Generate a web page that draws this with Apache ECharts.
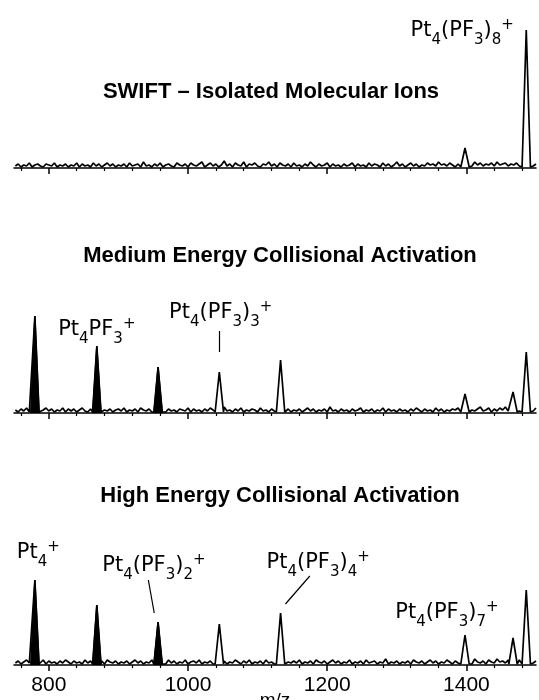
<!DOCTYPE html>
<html>
<head>
<meta charset="utf-8">
<script src="https://cdn.jsdelivr.net/npm/echarts@6/dist/echarts.min.js"></script>
<style>
  html, body { margin: 0; padding: 0; background: #fff; }
  #chart { width: 539px; height: 700px; }
</style>
</head>
<body>
<div id="chart"></div>
<script>
/* three stacked mass spectra: SWIFT / medium / high energy CID */
var mzMin = 750, mzMax = 1500;
var majorTicks = [800, 1000, 1200, 1400];
var minorTicks = [760, 840, 880, 920, 960, 1040, 1080, 1120, 1160, 1240, 1280, 1320, 1360, 1440, 1480];

// baseline noise, sampled every 4 m/z from 752
var noiseStart = 752, noiseStep = 4;
var swiftNoise = [
  2,4,1,3,2,5,1,3,4,2,1,4,3,2,5,1,3,2,4,1,
  3,2,5,1,4,2,3,1,5,2,4,1,3,5,2,4,1,3,2,4,
  1,5,2,3,4,1,6,2,3,1,4,2,5,1,3,4,2,1,5,3,
  2,4,1,5,3,2,4,6,1,3,5,2,4,1,3,7,2,4,1,5,
  3,2,6,1,4,3,5,2,1,4,3,6,2,4,1,5,3,2,4,1,
  5,2,3,1,4,2,6,3,1,4,2,3,5,1,4,2,3,1,4,2,
  3,5,1,4,2,3,1,5,2,4,3,1,5,2,4,1,3,6,2,4,
  1,3,5,2,4,1,3,2,5,3,4,2,6,3,4,2,5,3,1,4,
  2,5,3,4,2,6,3,5,2,4,3,5,2,6,3,4,5,2,4,3,
  5,2,4,6,3,5,2,4
];
var mediumNoise = [
  3,1,4,2,5,1,3,2,4,1,3,5,2,4,1,3,2,5,1,4,
  2,4,1,3,5,2,1,4,3,2,5,1,3,2,4,1,3,4,2,5,
  1,3,2,4,1,5,3,2,4,1,3,2,5,3,1,4,2,3,1,4,
  3,2,5,1,4,2,3,1,4,2,5,3,1,4,2,6,2,3,1,4,
  2,5,1,3,2,4,3,1,5,2,3,1,4,2,5,1,3,2,4,1,
  3,2,4,1,3,5,2,4,1,3,2,4,1,6,2,3,1,4,2,3,
  1,4,2,3,5,1,3,2,4,1,3,2,5,1,4,2,3,1,4,2,
  3,1,4,2,5,3,1,4,2,3,1,5,2,4,1,3,2,4,3,5,
  2,4,1,5,3,2,4,6,2,3,5,1,4,2,5,3,6,2,4,3,
  5,2,4,1,6,3,2,5
];
var highNoise = [
  2,4,1,3,5,2,4,1,3,2,5,1,4,2,3,1,4,2,5,3,
  1,4,2,3,1,5,2,4,1,3,2,4,1,5,3,2,4,1,3,2,
  4,1,3,5,2,4,1,3,2,5,1,4,2,3,1,5,2,4,1,3,
  2,5,1,3,4,2,5,1,3,2,4,1,5,2,3,4,1,3,2,5,
  3,1,4,2,5,1,3,2,4,1,5,2,3,1,4,2,6,1,3,2,
  4,2,5,1,3,2,4,1,5,3,2,4,1,3,5,2,4,1,3,2,
  5,1,3,2,4,1,5,2,3,4,1,3,2,6,1,3,2,4,1,3,
  2,4,1,5,3,2,4,1,3,5,2,4,1,3,2,5,3,1,4,2,
  3,5,2,4,1,6,3,2,4,1,5,3,2,6,3,4,2,5,3,4,
  2,5,3,4,1,5,2,4
];

// peaks (m/z, intensity); the first cidFilled CID peaks print solid
var swiftPeakMz = [1398, 1486];
var swiftPeakH  = [20, 138];
var cidPeakMz = [780, 869, 957, 1045, 1133, 1398, 1467, 1486];
var mediumPeakH = [97, 67, 46, 41, 53, 19, 21, 61];
var highPeakH   = [85, 60, 43, 41, 52, 30, 27, 75];
var cidFilled = 3;
var peakHalfWidth = 6;

var titles = ['SWIFT \u2013 Isolated Molecular Ions', 'Medium Energy Collisional Activation', 'High Energy Collisional Activation'];

// peak annotations: [m/z, intensity] of label centre
var swiftLabelPos = [[1394, 137]];
var swiftLabelText = ['{m|Pt}{s|4}{m|(PF}{s|3}{m|)}{s|8}{p|+}'];
var mediumLabelPos = [[869, 83], [1047, 100]];
var mediumLabelText = ['{m|Pt}{s|4}{m|PF}{s|3}{p|+}', '{m|Pt}{s|4}{m|(PF}{s|3}{m|)}{s|3}{p|+}'];
var mediumLeaders = [[[1045, 82], [1045, 61]]];
var highLabelPos = [[785, 112], [951, 99], [1187, 102], [1372, 52]];
var highLabelText = ['{m|Pt}{s|4}{p|+}', '{m|Pt}{s|4}{m|(PF}{s|3}{m|)}{s|2}{p|+}',
  '{m|Pt}{s|4}{m|(PF}{s|3}{m|)}{s|4}{p|+}', '{m|Pt}{s|4}{m|(PF}{s|3}{m|)}{s|7}{p|+}'];
var highLeaders = [[[943, 85], [951.5, 52]], [[1175, 89], [1140, 61]]];

var ink = '#000';
var grids = [
  { left: 14, right: 3, top: 8, height: 160, outerBoundsMode: 'none' },
  { left: 14, right: 3, top: 293, height: 120, outerBoundsMode: 'none' },
  { left: 14, right: 3, top: 540, height: 125, outerBoundsMode: 'none' }
];
var yMax = [160, 120, 125];
var titleTop = [81, 245, 485];
var titleLeft = [271, 280, 280];

function buildTrace(noise, peakMz, peakH) {
  var pts = [];
  noise.forEach(function (v, i) {
    var x = noiseStart + i * noiseStep;
    var near = peakMz.some(function (m) { return Math.abs(x - m) <= peakHalfWidth; });
    if (!near) pts.push([x, v]);
  });
  peakMz.forEach(function (m, i) {
    pts.push([m - peakHalfWidth, 1], [m, peakH[i]], [m + peakHalfWidth, 1]);
  });
  pts.sort(function (a, b) { return a[0] - b[0]; });
  return pts;
}

function buildFilled(peakMz, peakH, count) {
  var pts = [];
  for (var i = 0; i < count; i++) {
    var m = peakMz[i];
    pts.push([m - peakHalfWidth, 0], [m, peakH[i]], [m + peakHalfWidth, 0], [m + peakHalfWidth, null]);
  }
  return pts;
}

// sub/superscripts: middle aligned, shifted with padding
var rich = {
  m: { fontFamily: 'DejaVu Sans', fontSize: 21, lineHeight: 22, color: ink, verticalAlign: 'middle' },
  s: { fontFamily: 'DejaVu Sans', fontSize: 15, lineHeight: 15, color: ink, verticalAlign: 'middle', padding: [19, 0, 0, 0] },
  p: { fontFamily: 'DejaVu Sans', fontSize: 15, lineHeight: 15, color: ink, verticalAlign: 'middle', padding: [0, 0, 11, 0] }
};

var panels = [
  { trace: buildTrace(swiftNoise, swiftPeakMz, swiftPeakH), filled: [],
    labels: swiftLabelPos, texts: swiftLabelText, leaders: [] },
  { trace: buildTrace(mediumNoise, cidPeakMz, mediumPeakH), filled: buildFilled(cidPeakMz, mediumPeakH, cidFilled),
    labels: mediumLabelPos, texts: mediumLabelText, leaders: mediumLeaders },
  { trace: buildTrace(highNoise, cidPeakMz, highPeakH), filled: buildFilled(cidPeakMz, highPeakH, cidFilled),
    labels: highLabelPos, texts: highLabelText, leaders: highLeaders }
];

var xAxes = [], yAxes = [], series = [], titleOpts = [];
panels.forEach(function (p, i) {
  xAxes.push({
    gridIndex: i, type: 'value', min: mzMin, max: mzMax, position: 'bottom',
    axisLine: { lineStyle: { color: ink, width: 1.5 } },
    axisTick: { customValues: majorTicks, length: 6, lineStyle: { color: ink, width: 1.5 } },
    axisLabel: { show: i === 2, customValues: majorTicks, margin: 10, color: ink,
      fontFamily: 'Liberation Sans', fontSize: 21, formatter: function (v) { return String(v); } },
    splitLine: { show: false },
    name: i === 2 ? 'm/z' : '', nameLocation: 'middle', nameGap: 26, nameMoveOverlap: false,
    nameTextStyle: { color: ink, fontFamily: 'Liberation Sans', fontSize: 19 }
  });
  yAxes.push({ gridIndex: i, type: 'value', min: 0, max: yMax[i], show: false });
  titleOpts.push({
    text: titles[i], left: titleLeft[i], top: titleTop[i], textAlign: 'center', padding: 0,
    textStyle: { color: ink, fontFamily: 'Liberation Sans', fontWeight: 'bold', fontSize: 22 }
  });
});
// minor ticks on overlay axes
panels.forEach(function (p, i) {
  xAxes.push({
    gridIndex: i, type: 'value', min: mzMin, max: mzMax, position: 'bottom',
    axisLine: { show: false },
    axisTick: { customValues: minorTicks, length: 3, lineStyle: { color: ink, width: 1.2 } },
    axisLabel: { show: false, customValues: minorTicks },
    splitLine: { show: false }
  });
});

panels.forEach(function (p, i) {
  series.push({
    type: 'line', xAxisIndex: i, yAxisIndex: i, data: p.trace,
    showSymbol: false, symbol: 'none', animation: false, silent: true,
    lineStyle: { color: ink, width: 1.7 },
    markLine: {
      silent: true, symbol: ['none', 'none'], animation: false,
      label: { show: false },
      lineStyle: { color: ink, width: 1.2, type: 'solid' },
      data: p.leaders.map(function (l) { return [{ coord: l[0] }, { coord: l[1] }]; })
    }
  });
  series.push({
    type: 'line', xAxisIndex: i, yAxisIndex: i, data: p.filled, connectNulls: false,
    showSymbol: false, symbol: 'none', animation: false, silent: true,
    lineStyle: { color: ink, width: 1.4 }, areaStyle: { color: ink, opacity: 1 }
  });
  series.push({
    type: 'scatter', xAxisIndex: i, yAxisIndex: i, symbolSize: 0, clip: false,
    animation: false, silent: true, itemStyle: { opacity: 1 },
    data: p.labels.map(function (pos, k) {
      return { value: pos, label: { formatter: p.texts[k] } };
    }),
    label: { show: true, position: 'inside', align: 'center', verticalAlign: 'middle', rich: rich }
  });
});

var chart = echarts.init(document.getElementById('chart'));
chart.setOption({
  backgroundColor: '#fff',
  animation: false,
  title: titleOpts,
  grid: grids,
  xAxis: xAxes,
  yAxis: yAxes,
  series: series
});
window.addEventListener('resize', function () { chart.resize(); });
</script>
</body>
</html>
